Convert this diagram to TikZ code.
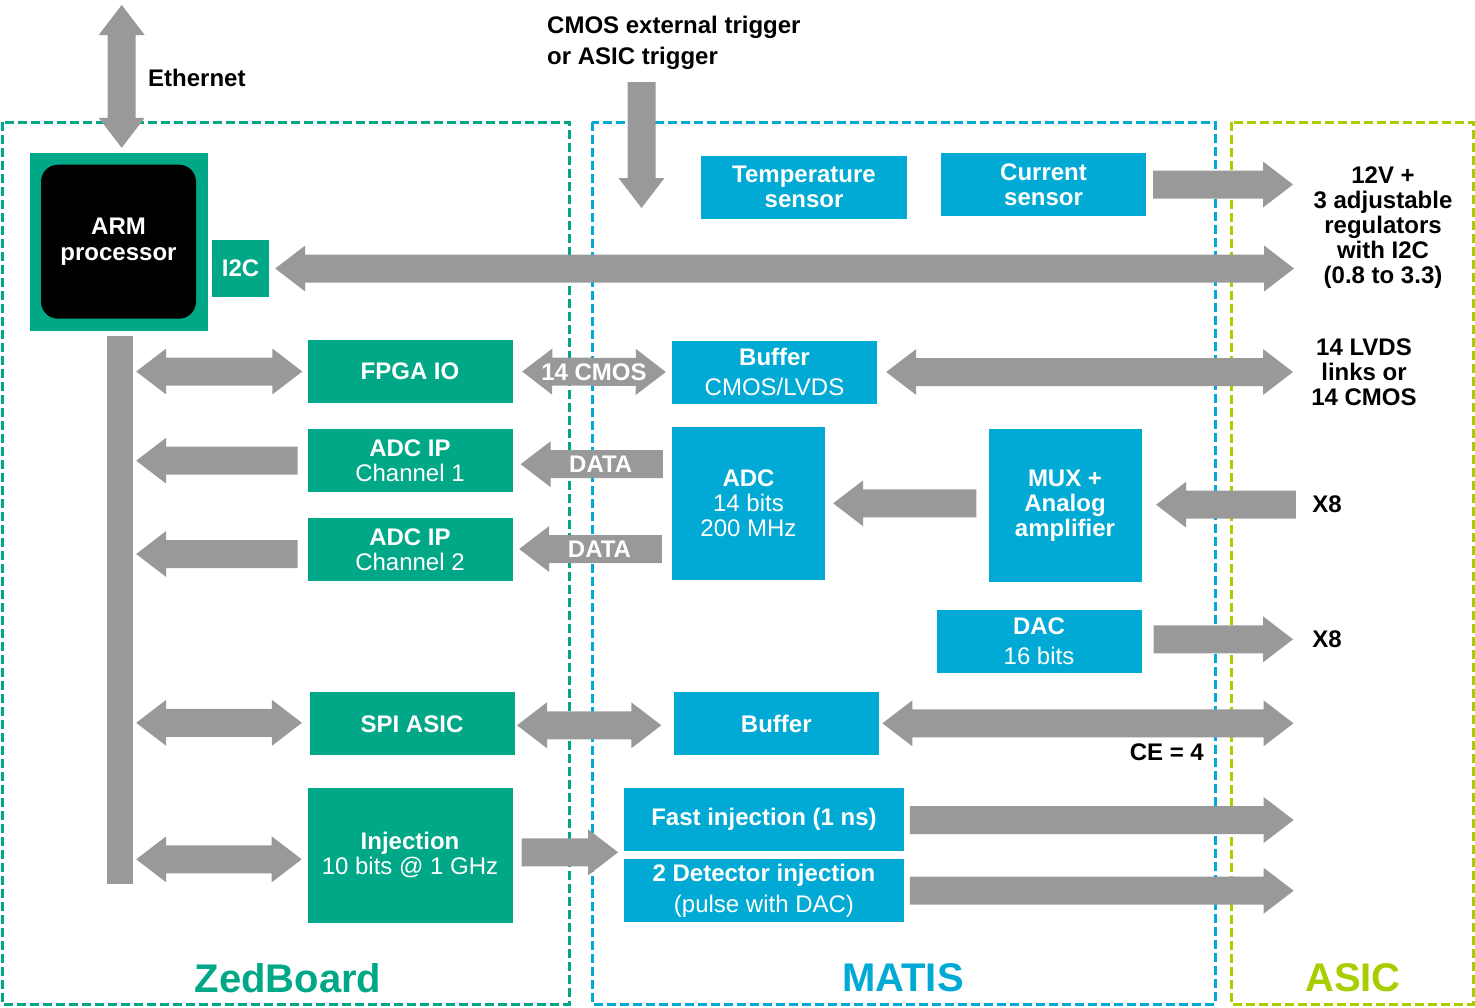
\documentclass[tikz,border=0pt]{standalone}
\usepackage{fontspec}
\setmainfont{Liberation Sans}
\usetikzlibrary{calc}
\definecolor{zgreen}{RGB}{0,168,135}
\definecolor{mblue}{RGB}{0,170,212}
\definecolor{alime}{RGB}{168,206,0}
\definecolor{agray}{RGB}{153,153,153}
% single fat arrow: tail #1, tip #2
\newcommand\fatone[2]{\fill[agray] ($(#1)!14pt!90:(#2)$) -- ($(#2)!30pt!(#1)!14pt!-90:(#1)$) -- ($(#2)!30pt!(#1)!23pt!-90:(#1)$) -- (#2) -- ($(#2)!30pt!(#1)!23pt!90:(#1)$) -- ($(#2)!30pt!(#1)!14pt!90:(#1)$) -- ($(#1)!14pt!-90:(#2)$) -- cycle;}
% double fat arrow between #1 and #2
\newcommand\fattwo[2]{\fill[agray] (#1) -- ($(#1)!30pt!(#2)!23pt!90:(#2)$) -- ($(#1)!30pt!(#2)!14pt!90:(#2)$) -- ($(#2)!30pt!(#1)!14pt!-90:(#1)$) -- ($(#2)!30pt!(#1)!23pt!-90:(#1)$) -- (#2) -- ($(#2)!30pt!(#1)!23pt!90:(#1)$) -- ($(#2)!30pt!(#1)!14pt!90:(#1)$) -- ($(#1)!30pt!(#2)!14pt!-90:(#2)$) -- ($(#1)!30pt!(#2)!23pt!-90:(#2)$) -- cycle;}
\begin{document}
\begin{tikzpicture}[x=1pt,y=-1pt,
  txt/.style={font=\fontsize{24}{25}\selectfont\bfseries, inner sep=0pt, align=center},
  gbox/.style={txt, fill=zgreen, text=white, minimum width=205pt, minimum height=63pt},
  bbox/.style={txt, fill=mblue, text=white, minimum width=205pt, minimum height=63pt},
  zone/.style={line width=3pt, dash pattern=on 9pt off 4pt},
  big/.style={font=\fontsize{40}{44}\selectfont\bfseries, inner sep=0pt}]
\useasboundingbox (0,0) rectangle (1475,1007);
% zones
\draw[zone, zgreen] (2,122) rectangle (569,1004);
\draw[zone, mblue] (592,122) rectangle (1215,1004);
\draw[zone, alime] (1231,122) rectangle (1473,1004);
\node[big, text=zgreen] (zl) at (288,978) {ZedBoard};
\node[big, text=mblue] (ml) at (903,978) {MATIS};
\node[big, text=alime] (al) at (1353,978) {ASIC};
% texts
\node[txt, anchor=west] (eth) at (148,78) {Ethernet};
\node[txt, anchor=west, align=left, font=\fontsize{24}{31}\selectfont\bfseries] (trig) at (547,43) {CMOS external trigger\\or ASIC trigger};
\node[txt] (reg) at (1383,228) {12V +\\3 adjustable\\regulators\\with I2C\\(0.8 to 3.3)};
\node[txt] (lvds) at (1364,372) {14 LVDS\\links or\\14 CMOS};
\node[txt] (x8a) at (1327,504) {X8};
\node[txt] (x8b) at (1327,639) {X8};
\node[txt, anchor=east] (ce) at (1204,752) {CE = 4};
% nodes
\node[fill=zgreen, minimum width=178pt, minimum height=178pt, inner sep=0pt] (armbox) at (119,242) {};
\node[txt, fill=black, text=white, rounded corners=17pt, minimum width=155pt, minimum height=154pt, font=\fontsize{24}{26}\selectfont\bfseries] (arm) at (118.5,241.7) {ARM\\processor};
\node[gbox, minimum width=57pt, minimum height=57pt] (i2c) at (240.5,268.5) {I2C};
\node[fill=agray, minimum width=26pt, minimum height=548pt, inner sep=0pt] (bus) at (120,610) {};
\node[bbox, minimum width=206pt] (temp) at (804,187) {Temperature\\sensor};
\node[bbox] (curr) at (1043.5,184.5) {Current\\sensor};
\node[gbox] (fpga) at (410,371.5) {FPGA IO};
\node[bbox] (buf1) at (774.5,372) {Buffer\\[5pt]\mdseries CMOS/LVDS};
\node[gbox] (adc1) at (410,460.7) {ADC IP\\\mdseries Channel 1};
\node[gbox] (adc2) at (410,549.7) {ADC IP\\\mdseries Channel 2};
\node[bbox, minimum width=153pt, minimum height=153pt] (adc) at (748.5,503.3) {ADC\\\mdseries 14 bits\\\mdseries 200 MHz};
\node[bbox, minimum width=153pt, minimum height=153pt] (mux) at (1065,505.7) {MUX +\\Analog\\amplifier};
\node[bbox] (dac) at (1039,641) {DAC\\[5pt]\mdseries 16 bits};
\node[gbox] (spi) at (412,723.8) {SPI ASIC};
\node[bbox] (buf2) at (776.3,723.8) {Buffer};
\node[gbox, minimum height=135pt] (inj) at (410,855) {Injection\\\mdseries 10 bits @ 1 GHz};
\node[bbox, minimum width=280pt] (fast) at (764,819.2) {Fast injection (1 ns)};
\node[bbox, minimum width=280pt] (det) at (764,890.5) {2 Detector injection\\[6pt]\mdseries (pulse with DAC)};
% connector end points
\coordinate (ethtop) at (121.7,5);
\coordinate (ethbot) at ($(armbox.north)+(2.7,-5)$);
\coordinate (i2cl) at ($(i2c.east)+(6,0)$);
\coordinate (i2cr) at (1294,268.5);
\coordinate (c1) at ($(curr.east)+(7,0)$);
\coordinate (c2) at (1293,184.5);
\coordinate (t1) at (641.5,82);
\coordinate (t2) at (641.5,208);
\coordinate (f1) at ($(bus.east |- fpga.west)+(3,0)$);
\coordinate (f2) at ($(fpga.west)+(-5,0)$);
\coordinate (m1) at ($(fpga.east)+(9.5,0)$);
\coordinate (m2) at ($(buf1.west)+(-6,0)$);
\coordinate (l1) at ($(buf1.east)+(9,0)$);
\coordinate (l2) at (1293,372);
\coordinate (a1t) at ($(adc1.west)+(-9.6,0)$);
\coordinate (a1h) at ($(bus.east |- adc1.west)+(3,0)$);
\coordinate (d1h) at ($(adc1.east)+(8,3.5)$);
\coordinate (d1t) at ($(adc.west |- d1h)+(-9,0)$);
\coordinate (a2t) at ($(adc2.west)+(-9.6,4.3)$);
\coordinate (a2h) at ($(bus.east |- a2t)+(3,0)$);
\coordinate (d2h) at ($(adc2.east)+(6.5,-0.7)$);
\coordinate (d2t) at ($(adc.west |- d2h)+(-10,0)$);
\coordinate (ma1) at ($(mux.west)+(-12,-2.4)$);
\coordinate (ma2) at ($(adc.east |- ma1)+(8,0)$);
\coordinate (xi2) at (1295.8,504.7);
\coordinate (xi1) at ($(mux.east |- xi2)+(14.4,0)$);
\coordinate (da1) at ($(dac.east)+(12,-1.7)$);
\coordinate (da2) at (1293,639.3);
\coordinate (s1) at ($(bus.east |- spi.west)+(3,-1)$);
\coordinate (s2) at ($(spi.west)+(-7.4,-1)$);
\coordinate (sb1) at ($(spi.east)+(2.3,1.5)$);
\coordinate (sb2) at ($(buf2.west |- sb1)+(-12.3,0)$);
\coordinate (ba1) at ($(buf2.east)+(3.4,-0.5)$);
\coordinate (ba2) at (1293.5,723.3);
\coordinate (j1) at ($(bus.east |- inj.west)+(3,4.3)$);
\coordinate (j2) at ($(inj.west)+(-5.6,4.3)$);
\coordinate (k1) at ($(inj.east)+(9,-2.7)$);
\coordinate (k2) at ($(fast.west |- k1)+(-5.7,0)$);
\coordinate (fa1) at ($(fast.east)+(5.7,0.8)$);
\coordinate (fa2) at (1293.6,820);
\coordinate (de1) at ($(det.east)+(5.7,0.2)$);
\coordinate (de2) at (1293.6,890.7);
% connectors
\fattwo{ethtop}{ethbot}
\fattwo{i2cl}{i2cr}
\fatone{c1}{c2}
\fatone{t1}{t2}
\fattwo{f1}{f2}
\fattwo{m1}{m2}
\fattwo{l1}{l2}
\fatone{a1t}{a1h}
\fatone{d1t}{d1h}
\fatone{a2t}{a2h}
\fatone{d2t}{d2h}
\fatone{ma1}{ma2}
\fatone{xi2}{xi1}
\fatone{da1}{da2}
\fattwo{s1}{s2}
\fattwo{sb1}{sb2}
\fattwo{ba1}{ba2}
\fattwo{j1}{j2}
\fatone{k1}{k2}
\fatone{fa1}{fa2}
\fatone{de1}{de2}
% labels on connectors
\node[txt, text=white] (cmos14) at ($(m1)!0.5!(m2)$) {14 CMOS};
\node[txt, text=white] (data1) at ($(d1h)!0.5!(d1t)+(9,0)$) {DATA};
\node[txt, text=white] (data2) at ($(d2h)!0.5!(d2t)+(9,0)$) {DATA};
\end{tikzpicture}
\end{document}
